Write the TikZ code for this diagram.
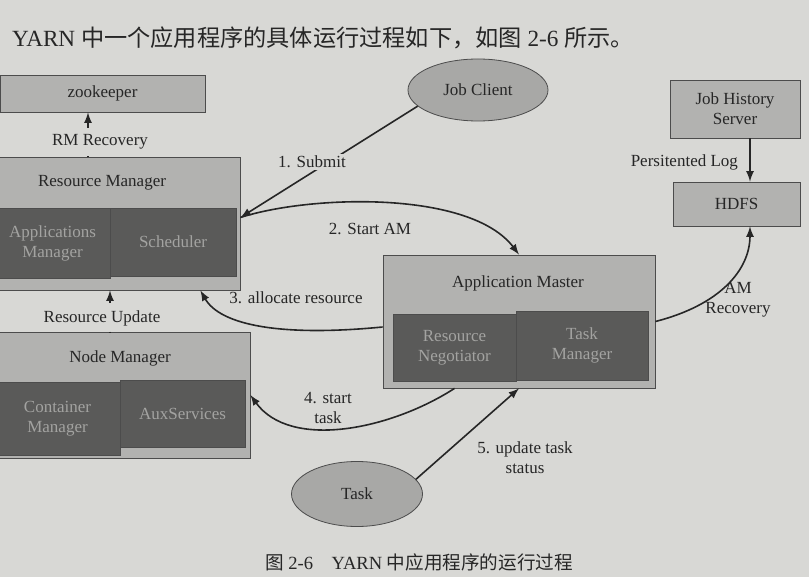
\documentclass[tikz,border=0pt]{standalone}
\usepackage{fontspec}
\setmainfont{Liberation Serif}
\newfontfamily\cjk{Noto Sans CJK SC}
\usetikzlibrary{shapes.geometric}
\definecolor{paper}{HTML}{D8D8D5}
\definecolor{boxgray}{HTML}{B2B2B0}
\definecolor{ovalgray}{HTML}{A8A8A6}
\definecolor{darkbox}{HTML}{5A5A59}
\definecolor{dimtext}{HTML}{A3A3A1}

\begin{document}
\begin{tikzpicture}[x=0.5pt,y=-0.5pt,
	font=\fontsize{8.5}{10}\selectfont,text=black!85,
	outer/.style={draw=black!70,fill=boxgray,inner sep=0pt,align=center},
	inner/.style={draw=black!70,fill=darkbox,text=dimtext,align=center,inner sep=0pt},
	oval/.style={ellipse,draw=black!70,fill=ovalgray,inner sep=0pt},
	flow/.style={draw=black!85,line width=0.8pt}]
	\useasboundingbox (0,0) rectangle (809,577);
	\clip (0,0) rectangle (809,577);
	\fill[paper] (0,0) rectangle (809,577);
	% intro line
	\node[anchor=base west,font=\fontsize{11.6}{13}\selectfont] (intro) at (5,47) {YARN {\cjk 中一个应用程序的具体运行过程如下，如图} 2-6 {\cjk 所示。}};
	% left column
	\node[outer,minimum width=102.5pt,minimum height=18.5pt] (zk) at (102.5,93.5) {zookeeper};
	\node[outer,minimum width=122.5pt,minimum height=66.5pt] (rm) at (117.5,223.5) {};
	\node (rmtitle) at (102,183) {Resource Manager};
	\node[inner,minimum width=57.5pt,minimum height=35pt] (apm) at (52.5,243) {Applications\\Manager};
	\node[inner,minimum width=63pt,minimum height=34pt] (sched) at (173,242) {Scheduler};
	\node[outer,minimum width=127.5pt,minimum height=63pt] (nm) at (122.5,395) {};
	\node (nmtitle) at (120,358) {Node Manager};
	\node[inner,minimum width=62.5pt,minimum height=36.5pt] (cm) at (57.5,418.5) {Container\\Manager};
	\node[inner,minimum width=62.5pt,minimum height=33.5pt] (aux) at (182.5,413.5) {AuxServices};
	% middle
	\node[oval,minimum width=70pt,minimum height=31pt] (jc) at (478,90) {Job Client};
	\node[outer,minimum width=136pt,minimum height=66.5pt] (am) at (519,321.5) {};
	\node (amtitle) at (518,283) {Application Master};
	\node[inner,minimum width=61.5pt,minimum height=33.5pt] (rn) at (454.5,347.5) {Resource\\Negotiator};
	\node[inner,minimum width=66pt,minimum height=34.5pt] (tm) at (582,345.5) {Task\\Manager};
	\node[oval,minimum width=65.5pt,minimum height=32.5pt] (task) at (357,494) {Task};
	% right column
	\node[outer,minimum width=65pt,minimum height=29pt] (jhs) at (735,109) {Job History\\Server};
	\node[outer,minimum width=63.5pt,minimum height=22pt] (hdfs) at (736.5,204) {HDFS};
	% connectors
	\coordinate (rmx) at (88,0);
	\coordinate (nmx) at (110,0);
	\coordinate (logx) at (750,0);
	\node (rmrec) at (100,142) {RM Recovery};
	\node (resupd) at (102,318) {Resource Update};
	\draw[flow] (rm.north -| rmx) -- (rmrec.south -| rmx);
	\draw[flow,-latex] (rmrec.north -| rmx) -- (zk.south -| rmx);
	\draw[flow] (nm.north -| nmx) -- (resupd.south -| nmx);
	\draw[flow,-latex] (resupd.north -| nmx) -- (rm.south -| nmx);
	\draw[flow,-latex] (jc.195) -- ([yshift=3pt]rm.east);
	\draw[flow,-latex] ([yshift=3pt]rm.east) .. controls (310,195) and (470,190) .. (am.north);
	\draw[flow,-latex] ([yshift=-2.75pt]am.west) .. controls (280,337) and (220,325) .. ([xshift=-20pt]rm.south east);
	\draw[flow,-latex] (am.south -| rn.south) .. controls (390,430) and (290,450) .. (nm.east);
	\draw[flow,-latex] (task.14) -- (am.south);
	\draw[flow,-latex] (jhs.south -| logx) -- (hdfs.north -| logx);
	\draw[flow,-latex] (am.east) .. controls (720,305) and (750,270) .. (hdfs.south -| logx);
	% labels
	\node[fill=paper,inner sep=1pt] (submit) at (312,162) {1. Submit};
	\node (startam) at (370,229) {2. Start AM};
	\node (alloc) at (296,298) {3. allocate resource};
	\node[align=center] (starttask) at (328,408) {4. start\\task};
	\node[align=center] (update) at (525,458) {5. update task\\status};
	\node[anchor=east] (plog) at (745,162) {Persitented Log};
	\node[align=center] (amrec) at (738,300) {AM\\Recovery};
	\node[font=\fontsize{9.3}{11}\selectfont] (caption) at (419,562) {{\cjk 图} 2-6\quad YARN {\cjk 中应用程序的运行过程}};
\end{tikzpicture}
\end{document}
